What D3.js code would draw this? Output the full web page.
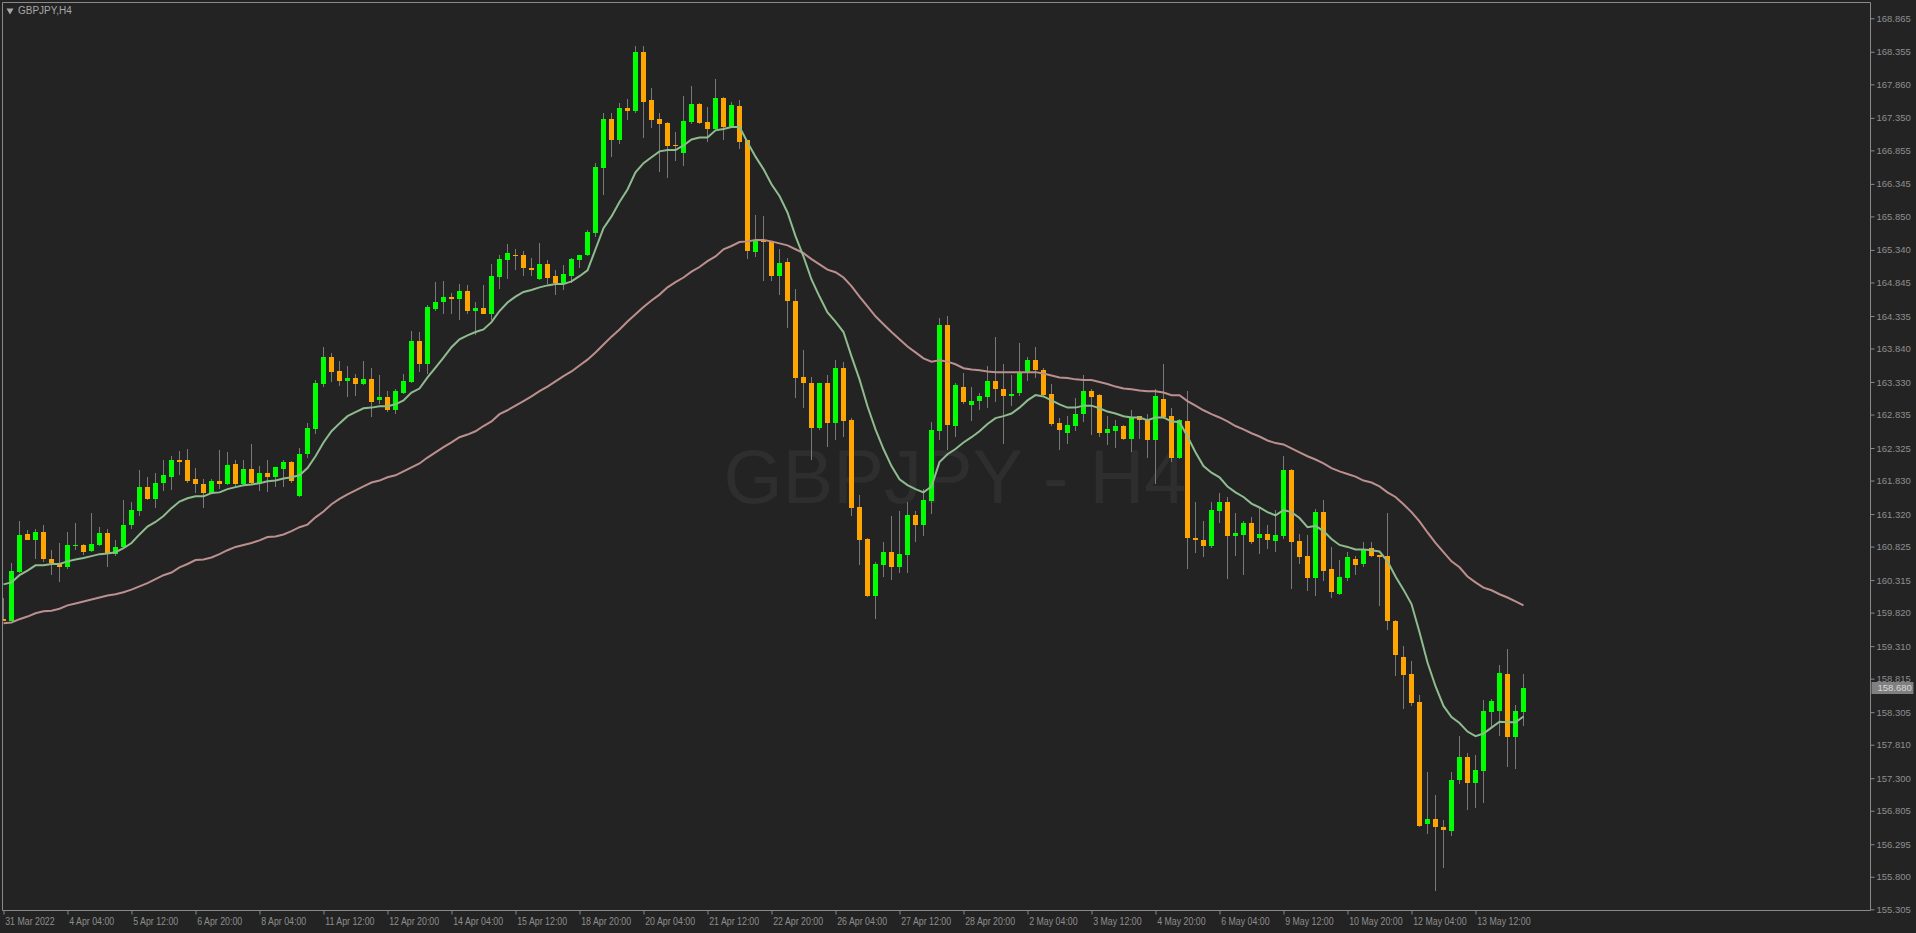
<!DOCTYPE html>
<meta charset="utf-8">
<script src="https://d3js.org/d3.v7.min.js"></script>
<style>
  body { margin: 0; background: #232323; overflow: hidden; }
</style>
<div id="chart"></div>
<script>
var width = 1916, height = 933

// GBPJPY H4 bars, 31 Mar 20:00 .. 16 May
var open = [
  159.73,159.70,160.44,161.01,160.92,161.04,160.63,160.56,160.51,160.83,
  160.85,160.76,160.85,161.03,160.71,160.82,161.15,161.36,161.73,161.55,
  161.79,161.89,162.15,162.14,161.85,161.77,161.64,161.82,161.77,162.08,
  161.77,162.00,161.80,161.94,161.88,162.00,162.12,161.59,162.23,162.61,
  163.30,163.71,163.50,163.34,163.39,163.30,163.37,163.05,163.10,162.90,
  163.17,163.33,163.95,163.60,164.44,164.54,164.63,164.59,164.71,164.41,
  164.45,164.37,164.93,165.18,165.27,165.26,165.07,164.89,165.12,164.94,
  164.83,164.95,165.18,165.26,165.59,166.58,167.34,167.02,167.50,167.45,
  168.35,167.62,167.33,167.27,166.93,166.81,167.28,167.56,167.28,167.18,
  167.65,167.21,167.53,167.01,165.31,165.47,165.46,164.94,165.15,164.57,
  163.40,163.32,162.63,163.31,162.70,163.55,162.75,161.42,160.94,160.07,
  160.54,160.74,160.52,160.69,161.30,161.16,161.52,162.59,164.19,162.66,
  163.25,162.98,163.04,163.10,163.34,163.23,163.11,163.16,163.48,163.67,
  163.52,163.15,162.71,162.55,162.66,162.84,163.19,163.13,162.55,162.58,
  162.66,162.46,162.81,162.76,162.44,163.07,162.81,162.18,162.73,160.95,
  160.92,160.83,161.36,161.50,160.98,161.00,161.19,160.95,161.01,160.91,
  160.98,161.99,160.91,160.68,160.34,161.35,160.49,160.11,160.34,160.63,
  160.56,160.80,160.69,160.68,159.70,159.15,158.88,158.46,156.60,156.68,
  156.55,156.49,157.27,157.63,157.22,157.41,158.31,158.32,158.88,157.92,
  158.31]
var high = [
  160.04,160.57,161.21,161.07,161.10,161.15,160.77,160.88,161.04,161.19,
  160.86,161.33,161.12,161.10,160.92,161.53,161.51,161.99,161.88,161.95,
  162.15,162.21,162.28,162.31,162.02,161.85,161.85,162.29,162.26,162.15,
  162.15,162.38,162.05,162.15,162.04,162.14,162.13,162.32,162.70,163.36,
  163.87,163.77,163.65,163.57,163.45,163.65,163.55,163.43,163.20,163.23,
  163.45,164.10,164.09,164.50,164.85,164.86,164.69,164.82,164.80,164.54,
  164.80,165.12,165.27,165.43,165.36,165.33,165.21,165.44,165.18,165.04,
  165.11,165.21,165.27,165.64,166.66,167.42,167.43,167.57,167.63,168.45,
  168.44,167.81,167.42,167.28,167.13,167.69,167.83,167.57,167.51,167.94,
  167.67,167.59,167.62,167.02,165.87,165.86,165.47,165.36,165.21,164.74,
  163.81,163.40,163.32,163.43,163.67,163.63,162.78,161.61,160.95,160.59,
  160.90,161.29,161.36,161.50,161.36,161.70,162.72,164.31,164.33,163.31,
  163.46,163.26,163.17,163.58,164.01,163.60,163.43,163.92,163.71,163.86,
  163.55,163.30,162.78,162.81,163.08,163.43,163.22,163.14,162.82,162.75,
  162.67,162.90,162.82,162.84,163.23,163.60,162.94,162.76,163.19,161.51,
  161.21,161.50,161.64,161.58,161.33,161.22,161.27,161.41,161.15,161.38,
  162.20,162.00,161.01,161.00,161.39,161.53,160.82,160.62,160.75,160.68,
  160.90,160.89,160.70,161.33,159.71,159.31,159.08,158.56,157.39,157.05,
  156.66,157.39,157.95,157.68,157.66,158.49,158.50,159.02,159.26,158.42,
  158.88]
var low = [
  159.69,159.70,160.43,160.92,160.63,160.59,160.39,160.28,160.48,160.77,
  160.70,160.74,160.83,160.51,160.68,160.80,161.10,161.29,161.53,161.41,
  161.67,161.68,161.92,161.80,161.64,161.41,161.62,161.70,161.76,161.74,
  161.76,161.77,161.67,161.66,161.73,161.73,161.79,161.58,162.18,162.54,
  163.25,163.33,163.27,163.10,163.11,163.28,162.79,162.99,162.87,162.85,
  163.14,163.31,163.48,163.45,164.41,164.36,164.37,164.28,164.36,164.04,
  164.36,164.27,164.74,164.89,165.04,164.94,164.94,164.88,164.82,164.65,
  164.73,164.83,165.07,165.25,165.53,166.17,166.75,166.95,167.31,167.42,
  167.05,167.19,166.52,166.43,166.70,166.61,167.25,167.25,166.99,167.17,
  167.02,167.20,166.87,165.20,165.23,164.86,164.86,164.65,164.15,163.08,
  162.94,162.14,162.60,162.34,162.44,162.50,161.29,160.54,160.06,159.72,
  160.36,160.31,160.43,160.42,160.89,160.98,161.32,162.44,162.29,162.49,
  162.99,162.73,162.90,162.93,163.02,162.38,162.96,163.12,163.34,163.39,
  163.10,162.66,162.29,162.38,162.58,162.72,162.52,162.50,162.37,162.32,
  162.44,162.26,162.46,162.18,161.77,162.77,162.11,162.16,160.48,160.72,
  160.66,160.81,161.18,160.33,160.68,160.39,160.87,160.71,160.79,160.74,
  160.94,160.18,160.56,160.15,160.08,160.30,160.05,160.09,160.30,160.39,
  160.52,160.66,159.92,159.56,158.85,158.36,158.40,156.56,156.45,155.59,
  155.93,156.42,157.21,156.81,156.84,156.93,158.06,157.95,157.47,157.44,
  158.09]
var close = [
  159.70,160.45,161.00,160.92,161.04,160.63,160.57,160.51,160.85,160.85,
  160.74,160.86,161.03,160.71,160.82,161.16,161.38,161.73,161.55,161.80,
  161.91,162.15,162.12,161.82,161.77,161.64,161.83,161.77,162.06,161.77,
  162.00,161.80,161.94,161.88,162.03,162.12,161.82,162.24,162.63,163.31,
  163.71,163.48,163.34,163.39,163.30,163.37,163.02,163.10,162.90,163.19,
  163.34,163.95,163.60,164.47,164.54,164.63,164.59,164.71,164.41,164.45,
  164.37,164.94,165.20,165.29,165.24,165.06,165.03,165.12,164.92,164.83,
  164.97,165.20,165.26,165.61,166.60,167.34,167.02,167.50,167.46,168.35,
  167.59,167.31,167.25,166.92,166.92,167.30,167.56,167.27,167.18,167.65,
  167.21,167.54,166.99,165.32,165.47,165.46,164.94,165.14,164.56,163.39,
  163.31,162.63,163.31,162.70,163.55,162.73,161.41,160.92,160.07,160.56,
  160.74,160.52,160.71,161.30,161.16,161.53,162.60,164.19,162.67,163.28,
  163.02,163.04,163.11,163.34,163.22,163.11,163.14,163.46,163.67,163.51,
  163.13,162.69,162.60,162.67,162.85,163.19,163.10,162.56,162.61,162.66,
  162.46,162.79,162.75,162.44,163.11,162.79,162.18,162.75,160.95,160.92,
  160.83,161.38,161.50,160.98,161.03,161.19,160.89,161.01,160.92,161.00,
  161.99,160.89,160.66,160.34,161.35,160.46,160.13,160.36,160.66,160.54,
  160.78,160.68,160.66,159.70,159.17,158.87,158.44,156.57,156.68,156.55,
  156.51,157.28,157.63,157.22,157.42,158.32,158.47,158.90,157.92,158.32,
  158.68]

// fast moving average (light green)
var maFast = [
  160.25,160.28,160.39,160.46,160.54,160.54,160.56,160.56,160.60,160.63,
  160.65,160.68,160.71,160.72,160.74,160.80,160.88,161.01,161.13,161.20,
  161.29,161.41,161.51,161.56,161.59,161.59,161.64,161.65,161.70,161.73,
  161.76,161.77,161.79,161.82,161.83,161.86,161.88,161.91,162.02,162.20,
  162.41,162.58,162.70,162.81,162.87,162.93,162.94,162.96,162.96,162.99,
  163.05,163.17,163.23,163.40,163.55,163.70,163.86,163.98,164.04,164.09,
  164.13,164.24,164.41,164.54,164.63,164.70,164.73,164.77,164.80,164.82,
  164.82,164.86,164.94,165.03,165.35,165.67,165.85,166.07,166.26,166.52,
  166.66,166.75,166.84,166.86,166.86,166.93,167.02,167.05,167.05,167.16,
  167.18,167.21,167.21,166.98,166.76,166.57,166.34,166.16,165.91,165.55,
  165.24,164.89,164.63,164.39,164.25,164.09,163.72,163.37,162.96,162.61,
  162.31,162.05,161.85,161.76,161.70,161.65,161.74,162.11,162.23,162.31,
  162.41,162.49,162.58,162.69,162.78,162.81,162.85,162.94,163.05,163.13,
  163.11,163.05,162.99,162.94,162.94,162.97,162.97,162.93,162.88,162.85,
  162.81,162.79,162.79,162.75,162.79,162.79,162.73,162.72,162.50,162.26,
  162.05,161.95,161.88,161.74,161.65,161.58,161.48,161.42,161.35,161.30,
  161.38,161.35,161.26,161.12,161.14,161.06,160.94,160.85,160.82,160.78,
  160.78,160.77,160.75,160.60,160.37,160.17,159.95,159.52,159.06,158.70,
  158.40,158.23,158.14,158.01,157.94,157.98,158.07,158.16,158.15,158.15,
  158.24]

// slow moving average (rosy)
var maSlow = [
  159.66,159.67,159.72,159.76,159.81,159.84,159.85,159.88,159.93,159.96,
  159.99,160.02,160.05,160.08,160.10,160.13,160.17,160.22,160.27,160.33,
  160.39,160.43,160.51,160.56,160.62,160.63,160.66,160.71,160.77,160.82,
  160.85,160.88,160.92,160.97,160.98,161.01,161.06,161.12,161.16,161.27,
  161.36,161.47,161.55,161.62,161.68,161.74,161.80,161.83,161.88,161.91,
  161.97,162.03,162.09,162.18,162.26,162.34,162.41,162.49,162.53,162.58,
  162.66,162.73,162.84,162.90,162.97,163.04,163.11,163.19,163.26,163.34,
  163.42,163.49,163.58,163.67,163.78,163.90,164.02,164.13,164.25,164.36,
  164.47,164.57,164.66,164.77,164.85,164.92,165.01,165.08,165.17,165.24,
  165.35,165.40,165.46,165.47,165.49,165.49,165.47,165.44,165.41,165.35,
  165.29,165.20,165.12,165.04,165.00,164.92,164.79,164.63,164.48,164.33,
  164.21,164.09,163.98,163.87,163.78,163.69,163.64,163.66,163.64,163.60,
  163.54,163.52,163.51,163.49,163.48,163.48,163.48,163.48,163.48,163.48,
  163.46,163.43,163.40,163.39,163.37,163.36,163.36,163.33,163.30,163.26,
  163.23,163.22,163.20,163.19,163.19,163.17,163.13,163.13,163.04,162.97,
  162.90,162.84,162.79,162.73,162.66,162.61,162.55,162.50,162.44,162.40,
  162.38,162.32,162.26,162.20,162.15,162.09,162.02,161.97,161.93,161.89,
  161.83,161.80,161.74,161.65,161.58,161.47,161.35,161.21,161.04,160.88,
  160.74,160.60,160.51,160.37,160.28,160.20,160.16,160.10,160.05,159.99,
  159.93]

var priceTicks = ["168.865","168.355","167.860","167.350","166.855","166.345","165.850",
  "165.340","164.845","164.335","163.840","163.330","162.835","162.325","161.830",
  "161.320","160.825","160.315","159.820","159.310","158.815","158.305","157.810",
  "157.300","156.805","156.295","155.800","155.305"]

var timeLabels = ["31 Mar 2022","4 Apr 04:00","5 Apr 12:00","6 Apr 20:00","8 Apr 04:00",
  "11 Apr 12:00","12 Apr 20:00","14 Apr 04:00","15 Apr 12:00","18 Apr 20:00",
  "20 Apr 04:00","21 Apr 12:00","22 Apr 20:00","26 Apr 04:00","27 Apr 12:00",
  "28 Apr 20:00","2 May 04:00","3 May 12:00","4 May 20:00","6 May 04:00",
  "9 May 12:00","10 May 20:00","12 May 04:00","13 May 12:00"]
var labelEvery = 8   // one time label every 8 bars

var lastPrice = 158.680
var symbol = "GBPJPY,H4"
var watermark = "GBPJPY - H4"

var bars = open.map(function(o, i) {
  return { i: i, o: o, h: high[i], l: low[i], c: close[i] }
})

var svg = d3.select("#chart")
  .append("svg")
    .attr("width", width)
    .attr("height", height)
    .style("display", "block")

var plotL = 2.5, plotT = 2.5, plotR = 1870.5, plotB = 910.5

var x = d3.scaleLinear().domain([0, bars.length - 1]).range([3, 1523])
var y = d3.scaleLinear().domain([155.305, 168.865]).range([909.3, 18.3])

svg.append("rect")
  .attr("width", width).attr("height", height)
  .attr("fill", "#232323")

svg.append("clipPath").attr("id", "plotclip")
  .append("rect")
    .attr("x", plotL).attr("y", plotT)
    .attr("width", plotR - plotL).attr("height", plotB - plotT)

// watermark
svg.append("text")
  .attr("x", 955).attr("y", 503)
  .attr("text-anchor", "middle")
  .style("font-family", "'Liberation Sans', Arial, sans-serif")
  .style("font-size", "76px")
  .attr("fill", "#2e2e2e")
  .text(watermark)

var plot = svg.append("g").attr("clip-path", "url(#plotclip)")

// wicks
plot.append("g")
  .selectAll("rect")
  .data(bars)
  .enter().append("rect")
    .attr("x", function(d) { return Math.round(x(d.i)) })
    .attr("width", 1)
    .attr("y", function(d) { return Math.round(y(d.h)) })
    .attr("height", function(d) { return Math.max(1, Math.round(y(d.l)) - Math.round(y(d.h))) })
    .attr("fill", "#7a7a7a")
    .attr("shape-rendering", "crispEdges")

// bodies
plot.append("g")
  .selectAll("rect")
  .data(bars)
  .enter().append("rect")
    .attr("x", function(d) { return Math.round(x(d.i)) - 2 })
    .attr("width", 5)
    .attr("y", function(d) { return Math.round(y(Math.max(d.o, d.c))) })
    .attr("height", function(d) {
      return Math.max(1, Math.round(y(Math.min(d.o, d.c))) - Math.round(y(Math.max(d.o, d.c))))
    })
    .attr("fill", function(d) { return d.c >= d.o ? "#00ff00" : "#ffa500" })
    .attr("shape-rendering", "crispEdges")

var line = d3.line()
  .x(function(d, i) { return x(i) + 0.5 })
  .y(function(d) { return y(d) })

plot.append("path")
  .datum(maSlow)
  .attr("d", line)
  .attr("fill", "none")
  .attr("stroke", "#bc8f8f")
  .attr("stroke-width", 2)

plot.append("path")
  .datum(maFast)
  .attr("d", line)
  .attr("fill", "none")
  .attr("stroke", "#8fbc8f")
  .attr("stroke-width", 2)

// frame
svg.append("path")
  .attr("d", "M" + plotL + "," + plotB + "V" + plotT + "H" + plotR + "V" + plotB + "H" + plotL)
  .attr("fill", "none")
  .attr("stroke", "#8a8a8a")
  .attr("stroke-width", 1)

var axisFont = "'Liberation Sans', Arial, sans-serif"

// price axis
var yAxis = d3.axisRight(y)
  .tickValues(priceTicks.map(Number))
  .tickFormat(function(d, i) { return priceTicks[i] })
  .tickSize(4)
  .tickPadding(2)

var ya = svg.append("g")
  .attr("transform", "translate(" + plotR + ",0)")
  .call(yAxis)
ya.select(".domain").remove()
ya.selectAll("line").attr("stroke", "#8a8a8a")
ya.selectAll("text")
  .attr("fill", "#8e8e8e")
  .style("font-family", axisFont)
  .style("font-size", "9.5px")

// current price marker
var lp = svg.append("g")
  .attr("transform", "translate(" + (plotR + 1) + "," + Math.round(y(lastPrice)) + ")")
lp.append("rect")
  .attr("x", 0).attr("y", -6)
  .attr("width", 42).attr("height", 12)
  .attr("fill", "#808080")
lp.append("text")
  .attr("x", 6).attr("y", 0).attr("dy", "0.34em")
  .attr("fill", "#d8d8d8")
  .style("font-family", axisFont)
  .style("font-size", "9.5px")
  .text(d3.format(".3f")(lastPrice))

// time axis
var xAxis = d3.axisBottom(x)
  .tickValues(timeLabels.map(function(t, k) { return k * labelEvery }))
  .tickFormat(function(d, k) { return timeLabels[k] })
  .tickSize(4)
  .tickPadding(3)

var xa = svg.append("g")
  .attr("transform", "translate(0," + plotB + ")")
  .call(xAxis)
xa.select(".domain").remove()
xa.selectAll("line").attr("stroke", "#8a8a8a").attr("transform", "translate(0.5,0)")
xa.selectAll("text")
  .attr("text-anchor", "start")
  .attr("dx", 2)
  .attr("transform", "scale(0.84,1)")
  .attr("fill", "#8e8e8e")
  .style("font-family", axisFont)
  .style("font-size", "10.5px")

// symbol caption
svg.append("path")
  .attr("d", d3.symbol().type(d3.symbolTriangle).size(22)())
  .attr("transform", "translate(10,10.5) rotate(180)")
  .attr("fill", "#a8a8a8")
svg.append("text")
  .attr("x", 18).attr("y", 14)
  .attr("fill", "#a8a8a8")
  .style("font-family", axisFont)
  .style("font-size", "10px")
  .text(symbol)
</script>
